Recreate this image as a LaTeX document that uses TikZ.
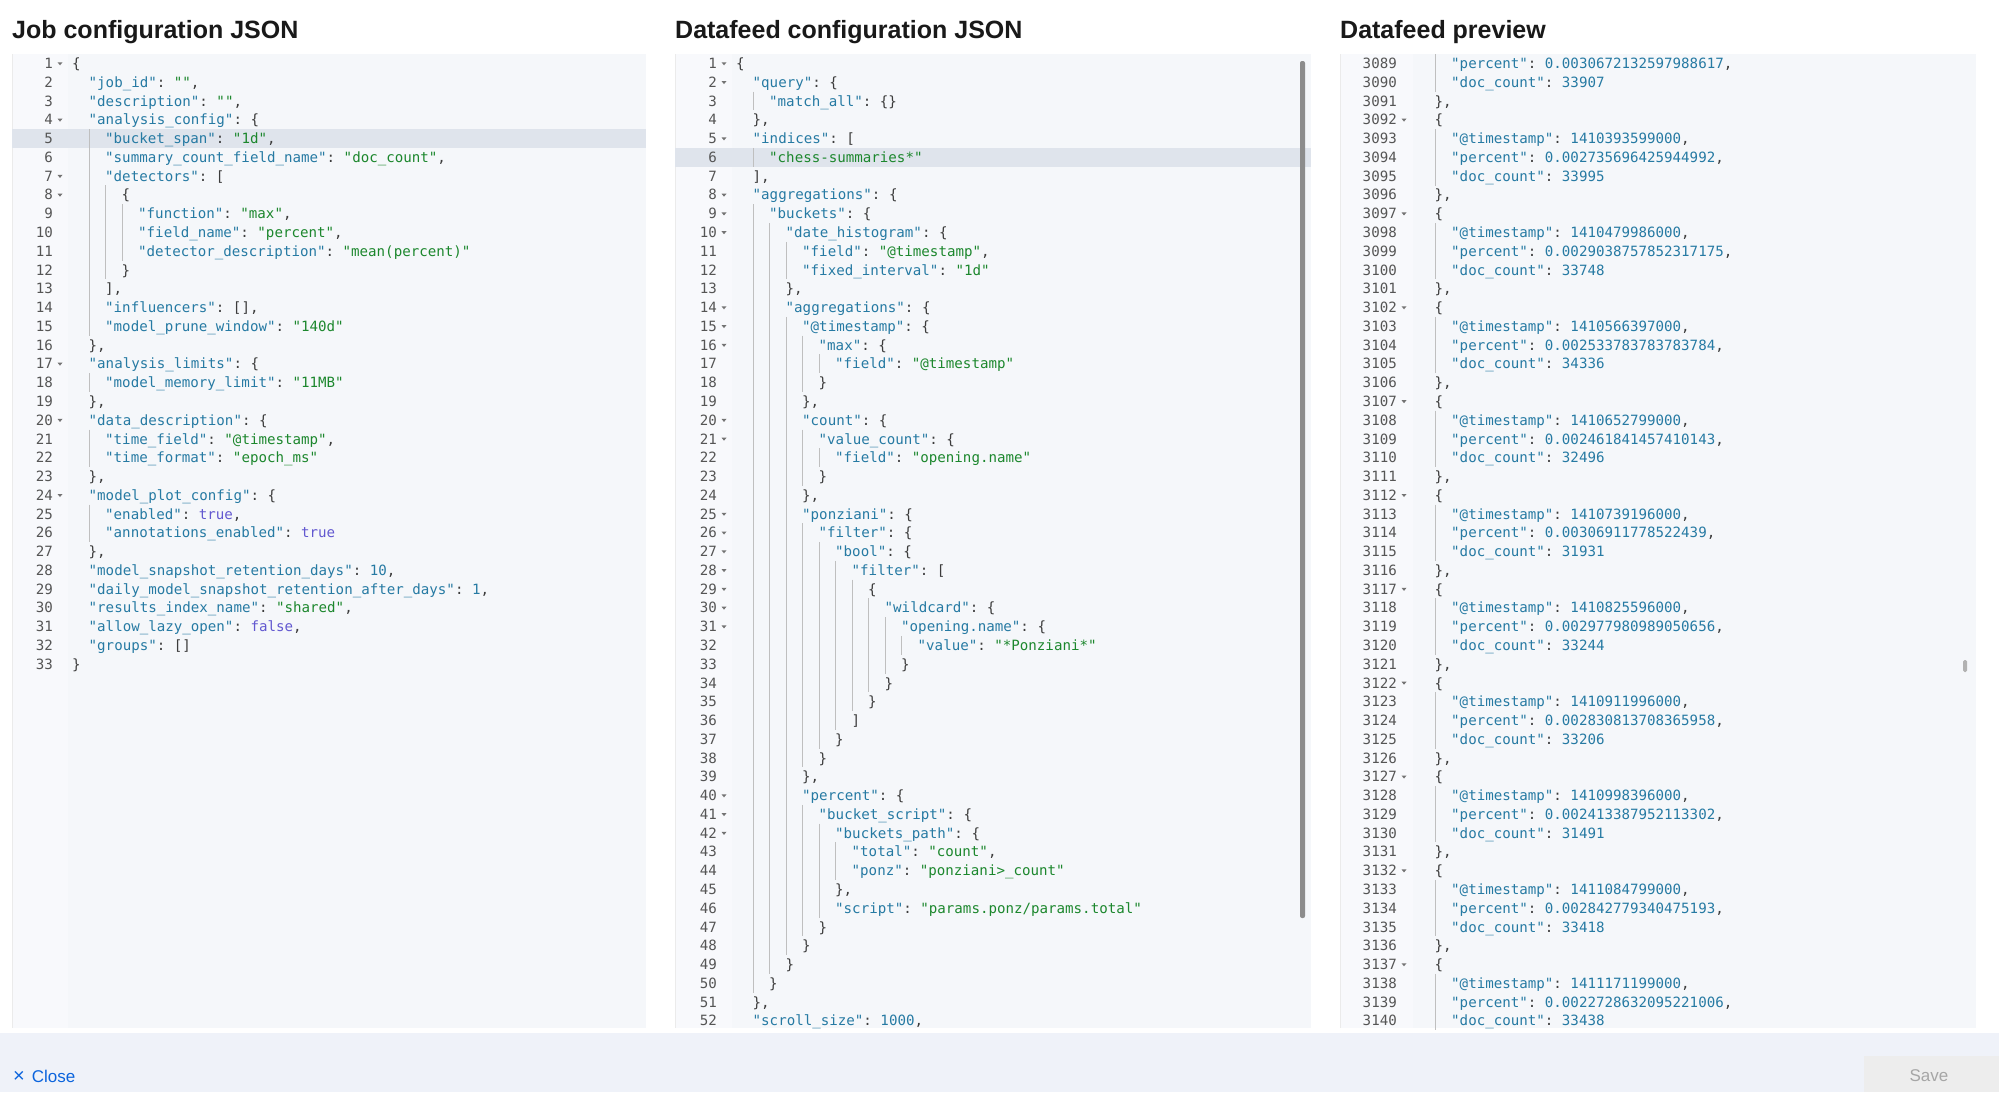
\documentclass[tikz,border=0pt]{standalone}
\usepackage{fontspec}
\setmainfont{Liberation Sans}
\setmonofont{DejaVu Sans Mono}
\definecolor{kcol}{RGB}{38,122,163}
\definecolor{scol}{RGB}{28,135,45}
\definecolor{bcol}{RGB}{98,88,208}
\definecolor{pcol}{RGB}{60,60,60}
\definecolor{lncol}{RGB}{85,85,85}
\definecolor{codebg}{RGB}{245,247,250}
\definecolor{gutbg}{RGB}{248,249,252}
\definecolor{hl}{RGB}{223,228,236}
\definecolor{barbg}{RGB}{239,242,249}
\newcommand\jk[1]{\textcolor{kcol}{#1}}
\newcommand\js[1]{\textcolor{scol}{#1}}
\newcommand\jn[1]{\textcolor{kcol}{#1}}
\newcommand\jb[1]{\textcolor{bcol}{#1}}
\tikzset{
 code/.style={inner sep=0pt,text=pcol,font=\fontsize{14.15}{15}\ttfamily\frenchspacing},
 lnum/.style={inner sep=0pt,text=lncol,font=\fontsize{14.15}{15}\ttfamily},
 guide/.style={draw=black!25,line width=0.8pt},
 ttl/.style={inner sep=0pt,anchor=base west,font=\fontsize{25}{28}\selectfont\bfseries,text=black!90},
}
\newcommand\R[5]{%
 \pgfmathsetmacro\yy{63.5+(#1)*18.77}%
 \ifnum#4>1 \pgfmathtruncatemacro\mx{#4-1}%
  \foreach \k in {1,...,\mx}{\draw[guide] ({\px+2*\k*8.25+0.5},\yy-9.4) -- ++(0,18.8);}\fi
 \node[code,anchor=base west] at ({\px+2*#4*8.25},\yy+5.1) {#5};
 \node[lnum,anchor=base east] at (\gx,\yy+5.1) {#2};
 \ifnum#3=1 \fill[black!55] (\gx+4.5,\yy-1.2) -- ++(5,0) -- ++(-2.5,3) -- cycle;\fi}
\newcommand\Rec[5]{%
 \R{#1}{#2}{1}{1}{\{}%
 \R{#1+1}{\the\numexpr#2+1\relax}{0}{2}{\jk{"@timestamp"}: \jn{#3},}%
 \R{#1+2}{\the\numexpr#2+2\relax}{0}{2}{\jk{"percent"}: \jn{#4},}%
 \R{#1+3}{\the\numexpr#2+3\relax}{0}{2}{\jk{"doc\_count"}: \jn{#5}}%
 \R{#1+4}{\the\numexpr#2+4\relax}{0}{1}{\},}}
\begin{document}
\begin{tikzpicture}[x=1pt,y=-1pt]
\fill[white] (0,0) rectangle (1999,1092);
\useasboundingbox (0,0) rectangle (1999,1092);
% titles
\node[ttl] (t1) at (12,38) {Job configuration JSON};
\node[ttl] (t2) at (675,38) {Datafeed configuration JSON};
\node[ttl] (t3) at (1340,38) {Datafeed preview};
% panels
\fill[gutbg] (12,54) rectangle (68,1028);
\fill[codebg] (68,54) rectangle (646,1028);
\draw[black!8] (12,54) -- (12,1028);
\fill[gutbg] (675,54) rectangle (732,1028);
\fill[codebg] (732,54) rectangle (1311,1028);
\draw[black!8] (675,54) -- (675,1028);
\fill[gutbg] (1340,54) rectangle (1413,1028);
\fill[codebg] (1413,54) rectangle (1976,1028);
\draw[black!8] (1340,54) -- (1340,1028);
% highlights
\fill[hl] (12,{63.5+4*18.77-9.2}) rectangle (646,{63.5+4*18.77+9.2});
\fill[hl] (675,{63.5+5*18.77-9.2}) rectangle (1311,{63.5+5*18.77+9.2});
% scrollbars
\fill[black!45,rounded corners=2pt] (1300,61) rectangle (1305,918);
\fill[black!30,rounded corners=1.5pt] (1963,660) rectangle (1967,672);
% ---------- panel 1
\def\px{72}\def\gx{53}
\R{0}{1}{1}{0}{\{}
\R{1}{2}{0}{1}{\jk{"job\_id"}: \js{""},}
\R{2}{3}{0}{1}{\jk{"description"}: \js{""},}
\R{3}{4}{1}{1}{\jk{"analysis\_config"}: \{}
\R{4}{5}{0}{2}{\jk{"bucket\_span"}: \js{"1d"},}
\R{5}{6}{0}{2}{\jk{"summary\_count\_field\_name"}: \js{"doc\_count"},}
\R{6}{7}{1}{2}{\jk{"detectors"}: [}
\R{7}{8}{1}{3}{\{}
\R{8}{9}{0}{4}{\jk{"function"}: \js{"max"},}
\R{9}{10}{0}{4}{\jk{"field\_name"}: \js{"percent"},}
\R{10}{11}{0}{4}{\jk{"detector\_description"}: \js{"mean(percent)"}}
\R{11}{12}{0}{3}{\}}
\R{12}{13}{0}{2}{],}
\R{13}{14}{0}{2}{\jk{"influencers"}: [],}
\R{14}{15}{0}{2}{\jk{"model\_prune\_window"}: \js{"140d"}}
\R{15}{16}{0}{1}{\},}
\R{16}{17}{1}{1}{\jk{"analysis\_limits"}: \{}
\R{17}{18}{0}{2}{\jk{"model\_memory\_limit"}: \js{"11MB"}}
\R{18}{19}{0}{1}{\},}
\R{19}{20}{1}{1}{\jk{"data\_description"}: \{}
\R{20}{21}{0}{2}{\jk{"time\_field"}: \js{"@timestamp"},}
\R{21}{22}{0}{2}{\jk{"time\_format"}: \js{"epoch\_ms"}}
\R{22}{23}{0}{1}{\},}
\R{23}{24}{1}{1}{\jk{"model\_plot\_config"}: \{}
\R{24}{25}{0}{2}{\jk{"enabled"}: \jb{true},}
\R{25}{26}{0}{2}{\jk{"annotations\_enabled"}: \jb{true}}
\R{26}{27}{0}{1}{\},}
\R{27}{28}{0}{1}{\jk{"model\_snapshot\_retention\_days"}: \jn{10},}
\R{28}{29}{0}{1}{\jk{"daily\_model\_snapshot\_retention\_after\_days"}: \jn{1},}
\R{29}{30}{0}{1}{\jk{"results\_index\_name"}: \js{"shared"},}
\R{30}{31}{0}{1}{\jk{"allow\_lazy\_open"}: \jb{false},}
\R{31}{32}{0}{1}{\jk{"groups"}: []}
\R{32}{33}{0}{0}{\}}
% ---------- panel 2
\def\px{736}\def\gx{717}
\R{0}{1}{1}{0}{\{}
\R{1}{2}{1}{1}{\jk{"query"}: \{}
\R{2}{3}{0}{2}{\jk{"match\_all"}: \{\}}
\R{3}{4}{0}{1}{\},}
\R{4}{5}{1}{1}{\jk{"indices"}: [}
\R{5}{6}{0}{2}{\js{"chess-summaries*"}}
\R{6}{7}{0}{1}{],}
\R{7}{8}{1}{1}{\jk{"aggregations"}: \{}
\R{8}{9}{1}{2}{\jk{"buckets"}: \{}
\R{9}{10}{1}{3}{\jk{"date\_histogram"}: \{}
\R{10}{11}{0}{4}{\jk{"field"}: \js{"@timestamp"},}
\R{11}{12}{0}{4}{\jk{"fixed\_interval"}: \js{"1d"}}
\R{12}{13}{0}{3}{\},}
\R{13}{14}{1}{3}{\jk{"aggregations"}: \{}
\R{14}{15}{1}{4}{\jk{"@timestamp"}: \{}
\R{15}{16}{1}{5}{\jk{"max"}: \{}
\R{16}{17}{0}{6}{\jk{"field"}: \js{"@timestamp"}}
\R{17}{18}{0}{5}{\}}
\R{18}{19}{0}{4}{\},}
\R{19}{20}{1}{4}{\jk{"count"}: \{}
\R{20}{21}{1}{5}{\jk{"value\_count"}: \{}
\R{21}{22}{0}{6}{\jk{"field"}: \js{"opening.name"}}
\R{22}{23}{0}{5}{\}}
\R{23}{24}{0}{4}{\},}
\R{24}{25}{1}{4}{\jk{"ponziani"}: \{}
\R{25}{26}{1}{5}{\jk{"filter"}: \{}
\R{26}{27}{1}{6}{\jk{"bool"}: \{}
\R{27}{28}{1}{7}{\jk{"filter"}: [}
\R{28}{29}{1}{8}{\{}
\R{29}{30}{1}{9}{\jk{"wildcard"}: \{}
\R{30}{31}{1}{10}{\jk{"opening.name"}: \{}
\R{31}{32}{0}{11}{\jk{"value"}: \js{"*Ponziani*"}}
\R{32}{33}{0}{10}{\}}
\R{33}{34}{0}{9}{\}}
\R{34}{35}{0}{8}{\}}
\R{35}{36}{0}{7}{]}
\R{36}{37}{0}{6}{\}}
\R{37}{38}{0}{5}{\}}
\R{38}{39}{0}{4}{\},}
\R{39}{40}{1}{4}{\jk{"percent"}: \{}
\R{40}{41}{1}{5}{\jk{"bucket\_script"}: \{}
\R{41}{42}{1}{6}{\jk{"buckets\_path"}: \{}
\R{42}{43}{0}{7}{\jk{"total"}: \js{"count"},}
\R{43}{44}{0}{7}{\jk{"ponz"}: \js{"ponziani>\_count"}}
\R{44}{45}{0}{6}{\},}
\R{45}{46}{0}{6}{\jk{"script"}: \js{"params.ponz/params.total"}}
\R{46}{47}{0}{5}{\}}
\R{47}{48}{0}{4}{\}}
\R{48}{49}{0}{3}{\}}
\R{49}{50}{0}{2}{\}}
\R{50}{51}{0}{1}{\},}
\R{51}{52}{0}{1}{\jk{"scroll\_size"}: \jn{1000},}
% ---------- panel 3
\def\px{1418}\def\gx{1397}
\R{0}{3089}{0}{2}{\jk{"percent"}: \jn{0.0030672132597988617},}
\R{1}{3090}{0}{2}{\jk{"doc\_count"}: \jn{33907}}
\R{2}{3091}{0}{1}{\},}
\Rec{3}{3092}{1410393599000}{0.002735696425944992}{33995}
\Rec{8}{3097}{1410479986000}{0.0029038757852317175}{33748}
\Rec{13}{3102}{1410566397000}{0.002533783783783784}{34336}
\Rec{18}{3107}{1410652799000}{0.002461841457410143}{32496}
\Rec{23}{3112}{1410739196000}{0.00306911778522439}{31931}
\Rec{28}{3117}{1410825596000}{0.002977980989050656}{33244}
\Rec{33}{3122}{1410911996000}{0.002830813708365958}{33206}
\Rec{38}{3127}{1410998396000}{0.002413387952113302}{31491}
\Rec{43}{3132}{1411084799000}{0.002842779340475193}{33418}
\R{48}{3137}{1}{1}{\{}
\R{49}{3138}{0}{2}{\jk{"@timestamp"}: \jn{1411171199000},}
\R{50}{3139}{0}{2}{\jk{"percent"}: \jn{0.0022728632095221006},}
\R{51}{3140}{0}{2}{\jk{"doc\_count"}: \jn{33438}}
% ---------- bottom bar
\fill[barbg] (0,1033) rectangle (1999,1092);
\node[inner sep=0pt,anchor=base west,text={rgb,255:red,11;green,100;blue,221},font=\fontsize{17}{20}\selectfont] (close) at (13,1082) {\fontsize{20}{20}\selectfont×\hspace{7pt}\fontsize{17}{20}\selectfont Close};
\fill[black!7] (1864,1056) rectangle (1999,1092);
\node[inner sep=0pt,text=black!35,font=\fontsize{17}{20}\selectfont] (save) at (1929,1076) {Save};
\end{tikzpicture}
\end{document}
